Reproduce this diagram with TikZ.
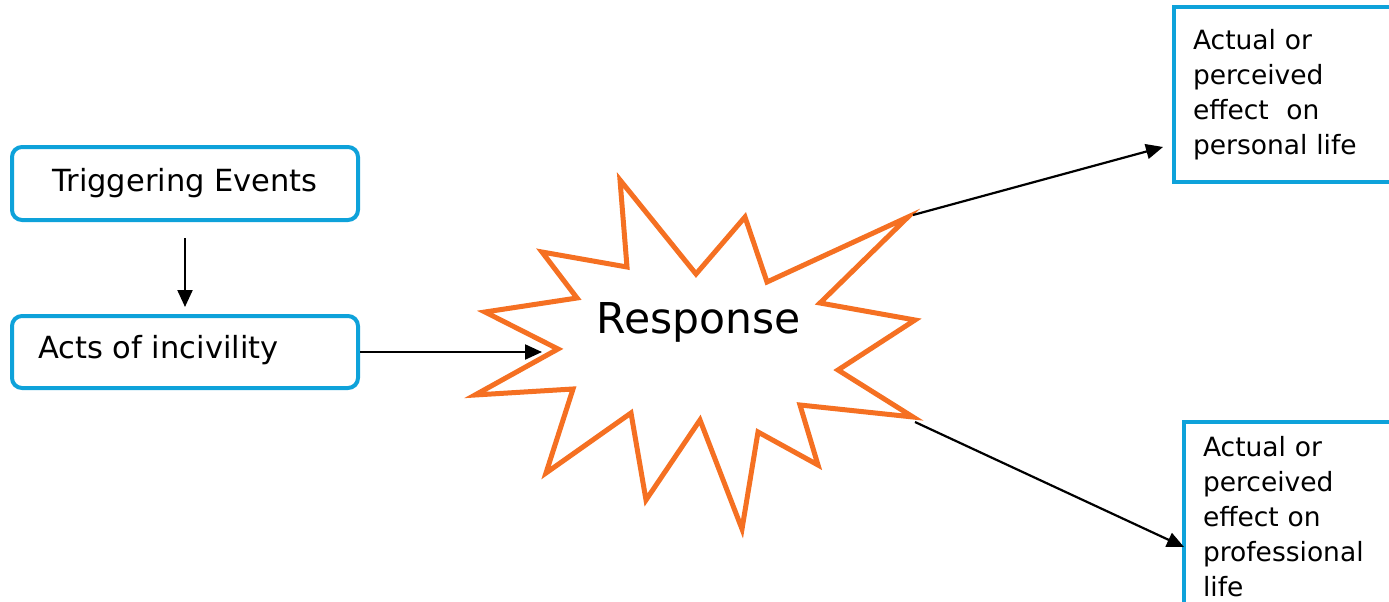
\documentclass[tikz,border=0pt]{standalone}
\usepackage{fontspec}
\setmainfont{DejaVu Sans}
\usetikzlibrary{arrows.meta}
\definecolor{boxblue}{RGB}{14,162,218}
\definecolor{burst}{RGB}{245,112,34}
\tikzset{
  roundbox/.style={draw=boxblue, line width=4pt, rounded corners=10pt, fill=white},
  sqbox/.style={draw=boxblue, line width=4pt, fill=white, align=left, inner xsep=19pt, inner ysep=0pt},
  conn/.style={line width=2.2pt, -{Triangle[length=17pt,width=15pt]}},
  boxfont/.style={font=\fontsize{30.5}{34}\selectfont},
  sidefont/.style={font=\fontsize{26.5}{35}\selectfont}
}
\begin{document}
\begin{tikzpicture}[x=1pt,y=-1pt]
\useasboundingbox (0,0) rectangle (1389,602);
% left boxes
\node[roundbox, minimum width=346pt, minimum height=73pt, boxfont] (trig) at (185,183.5) {Triggering Events};
\node[roundbox, minimum width=346pt, minimum height=72pt] (acts) at (185,352) {};
\node[anchor=base west, inner sep=0pt, boxfont] (actstext) at (38,358) {Acts of incivility};
% burst
\coordinate (s1) at (620,180);
\coordinate (s2) at (627,267);
\coordinate (s3) at (542,252);
\coordinate (s4) at (577,298);
\coordinate (s5) at (485,312);
\coordinate (s6) at (558,349);
\coordinate (s7) at (475,395);
\coordinate (s8) at (573,389);
\coordinate (s9) at (546,473);
\coordinate (s10) at (631,413);
\coordinate (s11) at (646,500);
\coordinate (s12) at (700,420);
\coordinate (s13) at (742,529);
\coordinate (s14) at (758,432);
\coordinate (s15) at (818,465);
\coordinate (s16) at (800,405);
\coordinate (s17) at (913,417);
\coordinate (s18) at (838,370);
\coordinate (s19) at (915,320);
\coordinate (s20) at (820,303);
\coordinate (s21) at (908,217);
\coordinate (s22) at (767,282);
\coordinate (s23) at (745,217);
\coordinate (s24) at (696,274);
\draw[burst, line width=5pt, line join=miter, fill=white]
  (s1)--(s2)--(s3)--(s4)--(s5)--(s6)--(s7)--(s8)--(s9)--(s10)--(s11)--(s12)--(s13)--(s14)--(s15)--(s16)--(s17)--(s18)--(s19)--(s20)--(s21)--(s22)--(s23)--(s24)--cycle;
\node[font=\fontsize{42.5}{48}\selectfont, inner sep=0pt] (resp) at (699,322) {Response};
% right boxes
\node[sqbox, text width=200pt, minimum height=175pt, sidefont] (pers) at (1293,94.5) {Actual or\\perceived\\effect\ \ on\\personal life};
\node[sqbox, text width=190pt, minimum height=190pt, sidefont] (prof) at (1298,517) {Actual or\\perceived\\effect on\\professional\\life};
% connector ends
\coordinate (burstin) at (542,352);
\coordinate (persin) at (1163,147);
\coordinate (profin) at (1184,547);
\coordinate (up) at (913,215);
\coordinate (lo) at (915,422);
% connectors
\draw[conn, shorten <=16pt, shorten >=7pt] (trig.south) -- (acts.north);
\draw[conn] (acts.east) -- (burstin);
\draw[conn] (up) -- (persin);
\draw[conn] (lo) -- (profin);
\end{tikzpicture}
\end{document}
